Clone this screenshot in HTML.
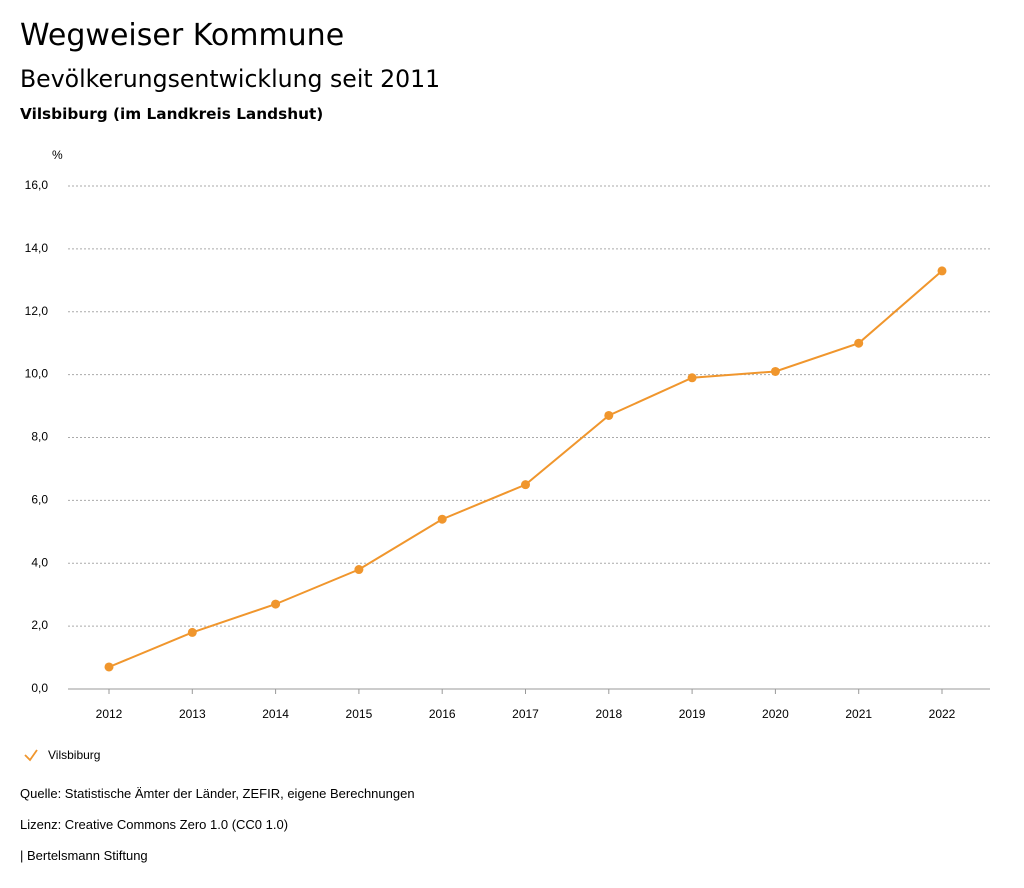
<!DOCTYPE html>
<html><head><meta charset="utf-8"><style>
body{margin:0;background:#fff;width:1024px;height:888px;overflow:hidden;font-family:"Liberation Sans",sans-serif;color:#000}
.t1{position:absolute;left:20px;top:18px;font-family:"DejaVu Sans",sans-serif;font-size:30px}
.t2{position:absolute;left:20px;top:65px;font-family:"DejaVu Sans",sans-serif;font-size:23.6px}
.t3{position:absolute;left:20px;top:105px;font-family:"DejaVu Sans",sans-serif;font-size:15.3px;font-weight:bold}
.f{position:absolute;left:20px;font-size:13px}
</style></head><body>
<div class="t1">Wegweiser Kommune</div>
<div class="t2">Bevölkerungsentwicklung seit 2011</div>
<div class="t3">Vilsbiburg (im Landkreis Landshut)</div>
<svg id="chart" width="1024" height="888" style="position:absolute;left:0;top:0"></svg>
<div class="f" style="top:786px">Quelle: Statistische Ämter der Länder, ZEFIR, eigene Berechnungen</div>
<div class="f" style="top:817px">Lizenz: Creative Commons Zero 1.0 (CC0 1.0)</div>
<div class="f" style="top:848px">| Bertelsmann Stiftung</div>
<script>
const years=["2012","2013","2014","2015","2016","2017","2018","2019","2020","2021","2022"];
const values=[0.7,1.8,2.7,3.8,5.4,6.5,8.7,9.9,10.1,11.0,13.3];
const yTicks=[0,2,4,6,8,10,12,14,16];
const yTickLabels=["0,0","2,0","4,0","6,0","8,0","10,0","12,0","14,0","16,0"];
const seriesName="Vilsbiburg";
const NS="http://www.w3.org/2000/svg";
const svg=document.getElementById('chart');
const x0=109,dx=(942-109)/(years.length-1);
const xS=i=>x0+i*dx;
const yS=v=>689-v*(689-186)/16;
function el(t,a,txt){const e=document.createElementNS(NS,t);for(const k in a)e.setAttribute(k,a[k]);if(txt!==undefined)e.textContent=txt;svg.appendChild(e);return e;}
let u=el('text',{x:52,y:159,'font-size':12,'font-family':'Liberation Sans, sans-serif'},'%');


yTicks.forEach((v,i)=>{
 const g=el('line',{x1:68,x2:990,y1:yS(v),y2:yS(v),stroke:i===0?'#999':'#aaa','stroke-dasharray':i===0?'':'2,2','stroke-width':1});
 
 
 const t=el('text',{x:48,y:yS(v)+3,'text-anchor':'end','font-size':12,'font-family':'Liberation Sans, sans-serif'},yTickLabels[i]);
 
 
});
years.forEach((yr,i)=>{
 const tk=el('line',{x1:xS(i),x2:xS(i),y1:689,y2:694,stroke:'#999'});
 
 
 const t=el('text',{x:xS(i),y:718,'text-anchor':'middle','font-size':12,'font-family':'Liberation Sans, sans-serif'},yr);
 
 
});
const line=el('polyline',{points:values.map((v,i)=>xS(i)+','+yS(v)).join(' '),fill:'none',stroke:'#f0962d','stroke-width':2});


values.forEach((v,i)=>{
 const c=el('circle',{cx:xS(i),cy:yS(v),r:4.5,fill:'#f0962d'});
 
 
});
const lg=el('polyline',{points:'25,755 30,760 37,750',fill:'none',stroke:'#f0962d','stroke-width':1.8});


const lt=el('text',{x:48,y:759,'font-size':12,'font-family':'Liberation Sans, sans-serif'},seriesName);


</script>
</body></html>
